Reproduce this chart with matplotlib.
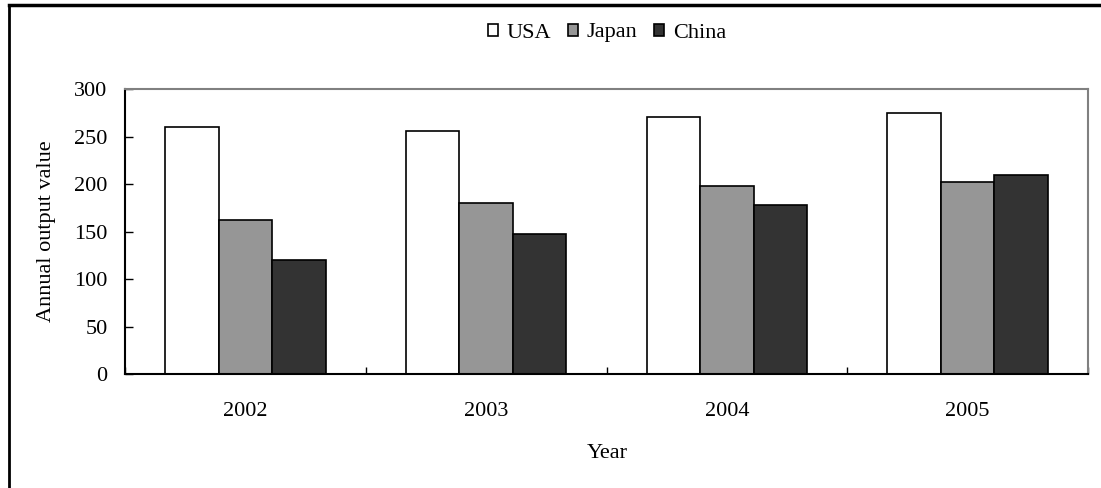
import matplotlib.pyplot as plt
import numpy as np
from matplotlib.lines import Line2D

plt.rcParams['font.family'] = ['Liberation Serif', 'DejaVu Serif']

years = ['2002', '2003', '2004', '2005']
usa = [260, 256, 271, 275]
japan = [162, 180, 198, 202]
china = [120, 147, 178, 210]

series = [('USA', usa, 'white'), ('Japan', japan, '#969696'), ('China', china, '#333333')]

W, H = 1101, 488
fs = 16

fig = plt.figure(figsize=(W / 100, H / 100), dpi=100)
ax = fig.add_axes([125 / W, 1 - 374 / H, (1088 - 125) / W, (374 - 89) / H])

x = np.arange(len(years))
w = 1 / 4.5
for i, (name, vals, col) in enumerate(series):
    ax.bar(x + (i - 1) * w, vals, w, color=col, edgecolor='black', linewidth=1.2, label=name)

ax.set_xlim(-0.5, len(years) - 0.5)
ax.set_ylim(0, 300)
ax.set_yticks(range(0, 301, 50))
ax.set_xticks(x)
ax.set_xticklabels(years)
ax.set_xticks(np.arange(-0.5, len(years), 1), minor=True)
ax.tick_params(axis='x', which='major', length=0, pad=20, labelsize=fs)
ax.tick_params(axis='x', which='minor', direction='in', length=5, width=1)
ax.tick_params(axis='y', direction='in', length=6, width=1, labelsize=fs, pad=12.5)
for s in ['top', 'right']:
    ax.spines[s].set_color('#808080')
    ax.spines[s].set_linewidth(1.5)
for s in ['left', 'bottom']:
    ax.spines[s].set_color('black')
    ax.spines[s].set_linewidth(1.5)

fig.text(607 / W, 1 - 453 / H, 'Year', fontsize=fs, ha='center', va='center')
fig.text(47 / W, 1 - 231 / H, 'Annual output value', fontsize=fs, ha='center',
         va='center', rotation=90)

ax.legend(loc='center', bbox_to_anchor=(607 / W, 1 - 33 / H), bbox_transform=fig.transFigure,
          ncol=3, frameon=False, fontsize=fs, borderpad=0,
          handlelength=0.45, handleheight=0.45, handletextpad=0.4,
          columnspacing=0.75)

# outer chart frame (left and top edges only visible)
fig.add_artist(Line2D([9 / W, 9 / W], [0, 1 - 5 / H], transform=fig.transFigure,
                      color='black', linewidth=2))
fig.add_artist(Line2D([9 / W, 1], [1 - 5 / H, 1 - 5 / H], transform=fig.transFigure,
                      color='black', linewidth=2.5))

fig.savefig('out.png', dpi=100)
